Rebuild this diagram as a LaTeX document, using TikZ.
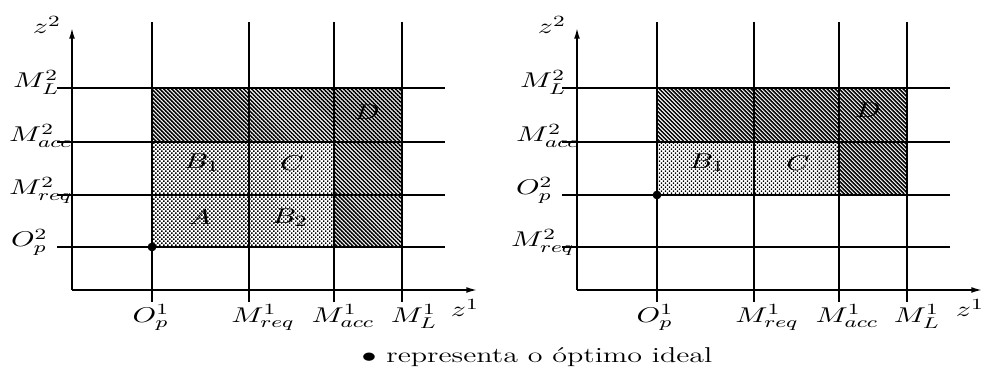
\documentclass[tikz,border=0pt]{standalone}
\usetikzlibrary{arrows.meta, patterns.meta}
\tikzset{
  every picture/.style={line width=0.75pt},
  lbl/.style={xscale=1.4, inner sep=0pt, font=\fontsize{11}{13}\selectfont},
  axis/.style={-{Latex[length=5.5pt, width=3pt]}, line width=0.75pt},
  darkfill/.style={pattern={Lines[angle=-45, distance=1.45pt, line width=0.8pt]}},
  lightfill/.style={pattern={Dots[angle=45, distance=1.45pt, radius=0.5pt]}},
  optimum/.style={circle, fill, inner sep=0pt, minimum size=4.5pt},
}

\begin{document}
\begin{tikzpicture}[x=0.513pt, y=0.513pt]
  \useasboundingbox (0,0) rectangle (983,381);
  % left: ideal optimum below the requirements
  \begin{scope}[shift={(72,91)}]
    \fill[lightfill] (80,43) rectangle (262,148);
    \fill[darkfill] (80,148) rectangle (330,202);
    \fill[darkfill] (262,43) rectangle (330,148);
    \foreach \x in {80,177,262,330} \draw (\x,-12) -- (\x,268);
    \foreach \y in {43,95,148,202} \draw (-15,\y) -- (373,\y);
    \coordinate (lo) at (0,0);
    \coordinate (ltop) at (0,262);
    \coordinate (lend) at (405,0);
    \draw[axis] (lo) -- (ltop);
    \draw[axis] (lo) -- (lend);
    \node[optimum] (lopt) at (80,43) {};
    \node[lbl] (lz2) at (-25,265) {$z^2$};
    \node[lbl] (lz1) at (393,-18) {$z^1$};
    \node[lbl, anchor=base west] (lyL) at (-60,202) {$M^2_L$};
    \node[lbl, anchor=base west] (lyacc) at (-64,148) {$M^2_{acc}$};
    \node[lbl, anchor=base west] (lyreq) at (-64,95) {$M^2_{req}$};
    \node[lbl, anchor=base west] (lyO) at (-62,43) {$O^2_p$};
    \node[lbl, anchor=north] (lxO) at (79,-14) {$O^1_p$};
    \node[lbl, anchor=north] (lxreq) at (191,-14) {$M^1_{req}$};
    \node[lbl, anchor=north] (lxacc) at (271,-14) {$M^1_{acc}$};
    \node[lbl, anchor=north] (lxL) at (342,-14) {$M^1_L$};
    \node[lbl] (lA) at (128,73) {$A$};
    \node[lbl] (lB1) at (130,127) {$B_1$};
    \node[lbl] (lB2) at (218,72) {$B_2$};
    \node[lbl] (lC) at (220,127) {$C$};
    \node[lbl] (lD) at (295,178) {$D$};
  \end{scope}
  % right: ideal optimum above the requirement
  \begin{scope}[shift={(577,91)}]
    \fill[lightfill] (80,95) rectangle (262,148);
    \fill[darkfill] (80,148) rectangle (330,202);
    \fill[darkfill] (262,95) rectangle (330,148);
    \foreach \x in {80,177,262,330} \draw (\x,-12) -- (\x,268);
    \foreach \y in {43,95,148,202} \draw (-15,\y) -- (373,\y);
    \coordinate (ro) at (0,0);
    \coordinate (rtop) at (0,262);
    \coordinate (rend) at (405,0);
    \draw[axis] (ro) -- (rtop);
    \draw[axis] (ro) -- (rend);
    \node[optimum] (ropt) at (80,95) {};
    \node[lbl] (rz2) at (-25,265) {$z^2$};
    \node[lbl] (rz1) at (393,-18) {$z^1$};
    \node[lbl, anchor=base west] (ryL) at (-58,202) {$M^2_L$};
    \node[lbl, anchor=base west] (ryacc) at (-62,148) {$M^2_{acc}$};
    \node[lbl, anchor=base west] (ryO) at (-62,95) {$O^2_p$};
    \node[lbl, anchor=base west] (ryreq) at (-67,43) {$M^2_{req}$};
    \node[lbl, anchor=north] (rxO) at (78,-14) {$O^1_p$};
    \node[lbl, anchor=north] (rxreq) at (190,-14) {$M^1_{req}$};
    \node[lbl, anchor=north] (rxacc) at (270,-14) {$M^1_{acc}$};
    \node[lbl, anchor=north] (rxL) at (340,-14) {$M^1_L$};
    \node[lbl] (rB1) at (130,127) {$B_1$};
    \node[lbl] (rC) at (221,127) {$C$};
    \node[lbl] (rD) at (291,180) {$D$};
  \end{scope}
  \node[lbl, anchor=base] (note) at (537,18) {$\bullet$ representa o óptimo ideal};
\end{tikzpicture}
\end{document}
